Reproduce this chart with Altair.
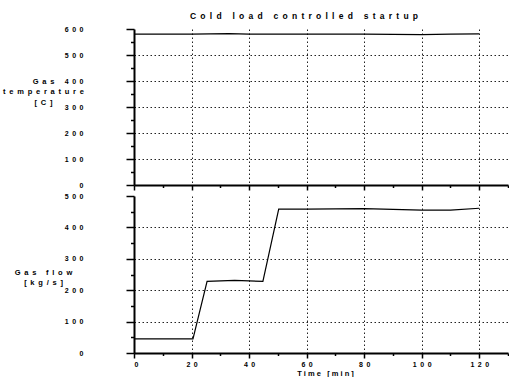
import altair as alt
import pandas as pd

# Gas temperature during the cold-load start [C]
time_temp = [0, 20, 33, 40, 60, 80, 100, 110, 120]
gas_temp = [580, 580, 582, 580, 580, 580, 578, 580, 581]

# Gas mass flow during the cold-load start [kg/s]
time_flow = [0, 20.5, 25.4, 35, 44.8, 50.3, 60, 80, 100, 110, 120]
gas_flow = [45, 45, 228, 231, 228, 458, 458, 460, 455, 455, 461]

x_ticks = list(range(0, 131, 10))

FONT = "Liberation Sans"
NBSP = "\u00a0"
EN = "\u2002"


def spaced(text, gap=EN):
    """Letter-spaced text: a gap between letters, a wider one between words."""
    words = text.split(" ")
    return (gap + NBSP + gap).join(gap.join(w) for w in words)


temp_df = pd.DataFrame({"time": time_temp, "temp": gas_temp})
flow_df = pd.DataFrame({"time": time_flow, "flow": gas_flow})

# tick labels drawn with a gap between digits
spaced_label = "join(split(datum.label, ''), '\u2002')"
grid_dash = [1.5, 2.5]


def x_axis(show_labels):
    kw = dict(
        values=x_ticks,
        grid=True,
        gridDash=grid_dash,
        gridColor="#222",
        gridWidth=1,
        gridOpacity={"condition": {"test": "datum.value % 20 === 0 && datum.value > 0 && datum.value < 130", "value": 1}, "value": 0},
        tickSize={"condition": {"test": "datum.value % 20 === 0", "value": 5}, "value": 2.5},
        tickColor="black",
        tickWidth=1.5,
        domainColor="black",
        domainWidth=2,
        labelFont=FONT,
        labelFontSize=7,
        labelFontWeight="bold",
        labelColor="black",
        labelPadding=2,
    )
    if show_labels:
        kw.update(
            labelExpr="datum.value % 20 === 0 && datum.value < 130 ? " + spaced_label + " : ''",
            title=spaced("Time [min]", " "),
            titleFont=FONT,
            titleFontSize=7.5,
            titleFontWeight="bold",
            titleColor="black",
            titleX=191,
            titleY=20,
            titleAlign="center",
            titleBaseline="middle",
        )
    else:
        kw.update(labels=False, title=None)
    return alt.Axis(**kw)


def y_axis(top, title_lines, title_y):
    return alt.Axis(
        values=list(range(0, top + 1, 50)),
        grid=True,
        gridDash=grid_dash,
        gridColor="#222",
        gridWidth=1,
        gridOpacity={"condition": {"test": f"datum.value % 100 === 0 && datum.value > 0 && datum.value < {top}", "value": 1}, "value": 0},
        tickSize={"condition": {"test": "datum.value % 100 === 0", "value": 8}, "value": 3.5},
        tickColor="black",
        tickWidth=1.5,
        domainColor="black",
        domainWidth=2,
        labelExpr="datum.value % 100 === 0 ? " + spaced_label + " : ''",
        labelFont=FONT,
        labelFontSize=7,
        labelFontWeight="bold",
        labelColor="black",
        labelPadding=43,
        title=[spaced(t) for t in title_lines],
        titleFont=FONT,
        titleFontSize=7.5,
        titleFontWeight="bold",
        titleColor="black",
        titleAngle=0,
        titleAlign="center",
        titleBaseline="middle",
        titleLineHeight=10.5,
        titleX=-91,
        titleY=title_y,
    )


x_scale = alt.Scale(domain=[0, 130], nice=False)

temp_chart = alt.Chart(
    temp_df,
    title=alt.Title(
        spaced("Cold load controlled startup"),
        font=FONT,
        fontSize=8.5,
        fontWeight="bold",
        color="black",
        anchor="middle",
        dx=-17,
        offset=5,
    ),
).mark_line(color="black", strokeWidth=1.2).encode(
    x=alt.X("time:Q", scale=x_scale, axis=x_axis(False)),
    y=alt.Y("temp:Q", scale=alt.Scale(domain=[0, 600], nice=False),
            axis=y_axis(600, ["Gas", "temperature", "[C]"], 52)),
).properties(width=374, height=156)

flow_chart = alt.Chart(flow_df).mark_line(color="black", strokeWidth=1.2).encode(
    x=alt.X("time:Q", scale=x_scale, axis=x_axis(True)),
    y=alt.Y("flow:Q", scale=alt.Scale(domain=[0, 500], nice=False),
            axis=y_axis(500, ["Gas flow", "[kg/s]"], 76)),
).properties(width=374, height=157)

chart = alt.vconcat(temp_chart, flow_chart, spacing=11, bounds="flush").properties(
    padding={"left": 2, "top": 11, "right": 0, "bottom": 0},
    background="white",
).configure_view(strokeWidth=0)

chart.save("out.html", embed_options={"renderer": "svg", "actions": False})
